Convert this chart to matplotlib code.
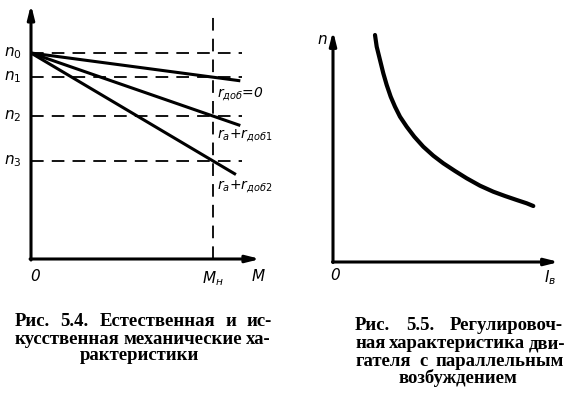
import matplotlib
matplotlib.use("Agg")
import matplotlib.pyplot as plt

# ---- data: Fig 5.4 (mechanical characteristics), M in units of M_nom, n in units of n0
m_nom = 1.0
n_levels = [1.0, 0.883, 0.694, 0.476]          # n0, n1, n2, n3
n_labels = ["n$_0$", "n$_1$", "n$_2$", "n$_3$"]
line_end_x = [1.15, 1.15, 1.126]
line_end_y = [0.865, 0.648, 0.41]
curve_labels = ["r$_{доб}$=0", "r$_a$+r$_{доб1}$", "r$_a$+r$_{доб2}$"]

# ---- data: Fig 5.5 (regulation characteristic n vs I_v)
iv = [0.42, 0.437, 0.47, 0.503, 0.537, 0.577, 0.62, 0.67, 0.737, 0.813, 0.903,
      1.003, 1.103, 1.22, 1.337, 1.47, 1.603, 1.72, 1.837, 1.937, 2.003]
nv = [2.27, 2.153, 2.02, 1.887, 1.77, 1.653, 1.553, 1.453, 1.353, 1.253, 1.153,
      1.063, 0.987, 0.91, 0.837, 0.763, 0.703, 0.66, 0.62, 0.587, 0.56]

cap_left = ["Рис. 5.4. Естественная и ис-", "кусственная механические ха-", "рактеристики"]
cap_right = ["Рис. 5.5. Регулировоч-", "ная характеристика дви-", "гателя с параллельным", "возбуждением"]

W, H = 569, 397
fig = plt.figure(figsize=(W / 100, H / 100), dpi=100)
fig.patch.set_facecolor("white")

axw = 2.2
dash = (0, (7, 4.5))

# ---------- left plot
ax = fig.add_axes([0, (H - 290) / H, 290 / W, 290 / H])
ax.set_xlim(-31 / 182, (290 - 31) / 182)
ax.set_ylim((259 - 290) / 206, 259 / 206)
ax.axis("off")
arrow = dict(arrowstyle="-|>,head_length=0.8,head_width=0.2", lw=axw, color="black",
             shrinkA=0, shrinkB=0)
ax.annotate("", xy=(0, 1.235), xytext=(0, -0.005), arrowprops=arrow)
ax.annotate("", xy=(1.26, 0), xytext=(-0.005, 0), arrowprops=arrow)
for n in n_levels:
    ax.plot([0, 1.16], [n, n], color="black", lw=1.3, ls=dash)
ax.plot([m_nom, m_nom], [0, 1.18], color="black", lw=1.3, ls=dash)
for ex, ey in zip(line_end_x, line_end_y):
    ax.plot([0, ex], [n_levels[0], ey], color="black", lw=2.2, solid_capstyle="butt")
ty = [0.80, 0.60, 0.35]
for lab, y in zip(curve_labels, ty):
    ax.text(1.02, y, lab, fontsize=10, style="italic", ha="left", va="center")
for lab, y in zip(n_labels, n_levels):
    ax.text(-0.05, y, lab, fontsize=11, style="italic", ha="right", va="center")
ax.text(0.02, -0.05, "0", fontsize=11, style="italic", ha="center", va="top")
ax.text(m_nom, -0.05, "M$_н$", fontsize=11, style="italic", ha="center", va="top")
ax.text(1.25, -0.05, "M", fontsize=11, style="italic", ha="center", va="top")

# ---------- right plot
ax2 = fig.add_axes([290 / W, (H - 290) / H, 279 / W, 290 / H])
ax2.set_xlim(-0.43, 2.36)
ax2.set_ylim(-0.28, 2.62)
ax2.axis("off")
ax2.annotate("", xy=(0, 2.31), xytext=(0, -0.005), arrowprops=arrow)
ax2.annotate("", xy=(2.26, 0), xytext=(-0.005, 0), arrowprops=arrow)
ax2.plot(iv, nv, color="black", lw=3.0, solid_capstyle="round", solid_joinstyle="round")
ax2.text(-0.11, 2.22, "n", fontsize=11, style="italic", ha="center", va="center")
ax2.text(0.02, -0.06, "0", fontsize=11, style="italic", ha="center", va="top")
ax2.text(2.17, -0.06, "I$_в$", fontsize=11, style="italic", ha="center", va="top")

# ---------- captions (justified lines, last line centred)
fam = "Liberation Serif"
fs = 13.5
renderer = fig.canvas.get_renderer()


def justify(line, x0, x1, ypx):
    words = line.split()
    arts = [fig.text(0, 1 - ypx / H, w, fontsize=fs, fontweight="bold", family=fam,
                     ha="left", va="center") for w in words]
    widths = [a.get_window_extent(renderer).width for a in arts]
    gap = (x1 - x0 - sum(widths)) / max(len(words) - 1, 1)
    x = x0
    for a, w in zip(arts, widths):
        a.set_x(x / W)
        x += w + gap


def centre(line, xc, ypx):
    fig.text(xc / W, 1 - ypx / H, line, fontsize=fs, fontweight="bold", family=fam,
             ha="center", va="center")


ys = [322, 339, 356]
justify(cap_left[0], 15, 272, ys[0])
justify(cap_left[1], 15, 271, ys[1])
centre(cap_left[2], 140, ys[2])
ys2 = [326, 344, 361, 378]
justify(cap_right[0], 355, 563, ys2[0])
justify(cap_right[1], 355, 565, ys2[1])
justify(cap_right[2], 355, 564, ys2[2])
centre(cap_right[3], 458, ys2[3])

fig.savefig("out.png", dpi=100)
